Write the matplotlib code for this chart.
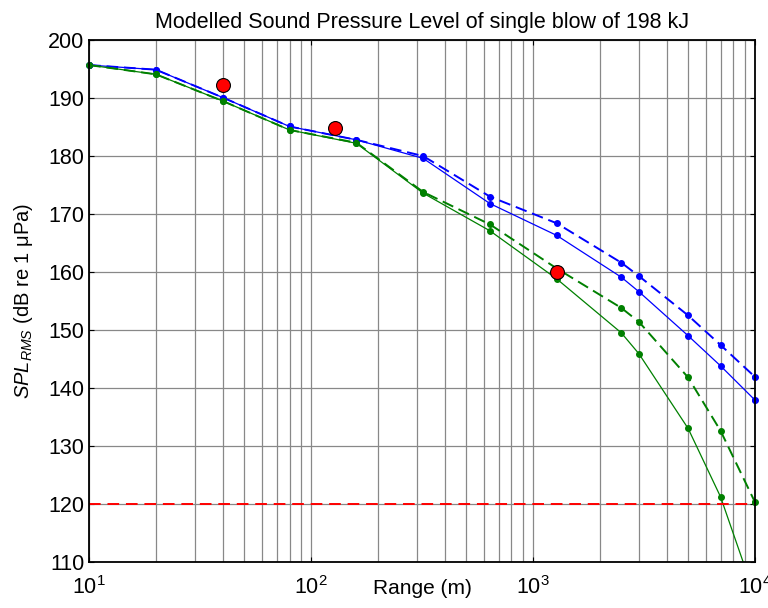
import matplotlib
matplotlib.use('Agg')
import matplotlib.pyplot as plt
import numpy as np

plt.rcParams['font.family'] = ['Liberation Sans', 'DejaVu Sans']
plt.rcParams['mathtext.fontset'] = 'custom'
plt.rcParams['mathtext.rm'] = 'Liberation Sans'
plt.rcParams['mathtext.it'] = 'Liberation Sans:italic'

# ranges (m)
rng = [10, 20, 40, 80, 160, 320, 640, 1280, 2500, 3000, 5000, 7000, 10000]

blue_dash = [195.7, 194.9, 190.1, 185.1, 182.8, 180.0, 173.0, 168.4, 161.6, 159.3, 152.5, 147.4, 141.9]
blue_solid = [195.7, 194.9, 190.1, 185.1, 182.8, 179.6, 171.8, 166.3, 159.1, 156.6, 149.0, 143.8, 137.9]
green_dash = [195.7, 194.1, 189.5, 184.5, 182.3, 173.8, 168.2, 160.6, 153.8, 151.4, 141.8, 132.6, 120.3]
green_solid = [195.7, 194.1, 189.5, 184.5, 182.2, 173.6, 167.1, 158.8, 149.5, 145.9, 133.0, 121.2, 104.1]

meas_x = [40, 128, 1280]
meas_y = [192.2, 184.9, 160.0]

threshold = 120

fig = plt.figure(figsize=(7.68, 6.08), dpi=100)
ax = fig.add_axes([0.116, 0.076, 0.867, 0.858])

ax.plot(rng, blue_dash, '--', color='blue', lw=1.4, dashes=(6, 3), marker='o', ms=4)
ax.plot(rng, blue_solid, '-', color='blue', lw=0.9, marker='o', ms=4)
ax.plot(rng, green_dash, '--', color='green', lw=1.4, dashes=(6, 3), marker='o', ms=4)
ax.plot(rng, green_solid, '-', color='green', lw=0.9, marker='o', ms=4)
# dots at the axis edges are not clipped in the original
ax.plot(rng[:1] + rng[-1:], blue_dash[:1] + blue_dash[-1:], 'o', color='blue', ms=4, clip_on=False)
ax.plot(rng[-1:], blue_solid[-1:], 'o', color='blue', ms=4, clip_on=False)
ax.plot(rng[:1] + rng[-1:], green_dash[:1] + green_dash[-1:], 'o', color='green', ms=4, clip_on=False)
ax.axhline(threshold, color='red', ls='--', lw=1.4, dashes=(6, 3.5))
ax.plot(meas_x, meas_y, 'o', color='red', mec='black', mew=0.8, ms=10, zorder=5)

ax.set_xscale('log')
ax.set_xlim(10, 1e4)
ax.set_ylim(110, 200)
ax.set_yticks(np.arange(110, 201, 10))
ax.grid(True, which='major', color='#888888', lw=0.9)
ax.grid(True, which='minor', axis='x', color='#888888', lw=0.9)
ax.tick_params(which='both', direction='in', top=True, right=True, labelsize=15.5)
ax.tick_params(axis='x', pad=10)
ax.tick_params(which='minor', length=0)
for s in ax.spines.values():
    s.set_linewidth(1.3)

ax.set_title('Modelled Sound Pressure Level of single blow of 198 kJ', fontsize=15.5, pad=9)
ax.set_xlabel('Range (m)', fontsize=15, labelpad=-14)
ax.set_ylabel(r'$\mathit{SPL}_{\mathit{RMS}}$ (dB re 1 μPa)', fontsize=14.5, labelpad=9)

fig.savefig('out.png', dpi=100)
